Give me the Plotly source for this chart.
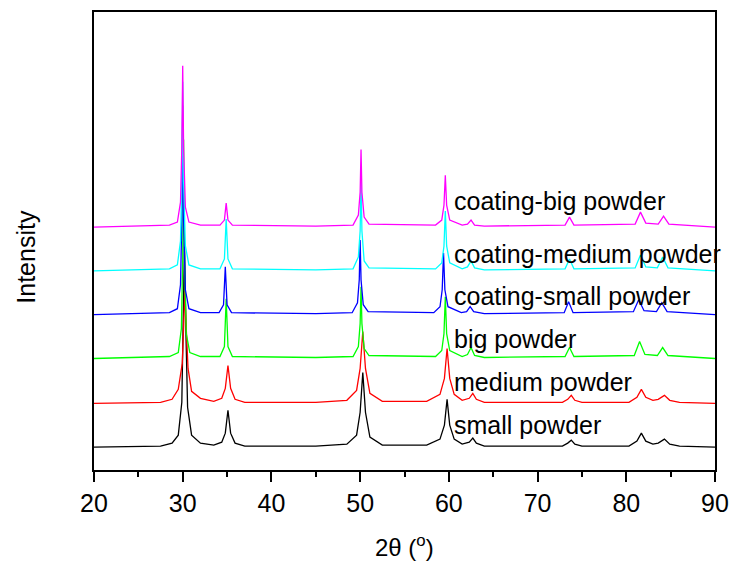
import plotly.graph_objects as go

# ---- data (2theta in degrees, intensity in arbitrary units) ----
names = ["small powder", "medium powder", "big powder",
         "coating-small powder", "coating-medium powder", "coating-big powder"]
colors = ["#000000", "#ff0000", "#00ff00", "#0000ff", "#00ffff", "#ff00ff"]
offsets = [23, 67, 112, 156, 200, 244]

x_small = [20, 27.5, 28.8, 29.5, 29.9, 30.05, 30.2, 30.35, 30.55, 31.0,
           32.0, 33.5, 34.4, 34.8, 35.1, 35.4, 35.9, 37.0,
           45, 48.5, 49.6, 50.0, 50.3, 50.6, 51.1, 52.5,
           57.5, 59.0, 59.5, 59.8, 60.1, 60.6, 61.5,
           62.3, 62.7, 63.1, 64.0,
           72.8, 73.4, 73.8, 74.2, 75.0,
           80.3, 81.2, 81.7, 82.2, 83.0,
           83.6, 84.3, 84.9, 86.0, 90]
i_small = [0, 1, 4, 12, 45, 120, 205, 120, 40, 12,
           4, 2, 5, 14, 37, 14, 4, 1,
           1, 3, 12, 35, 75, 35, 10, 2,
           2, 8, 22, 48, 22, 8, 3,
           5, 9, 4, 1,
           1, 4, 7, 3, 1,
           1, 6, 14, 6, 3,
           4, 8, 3, 1, 0]

x_medium = [20, 27.5, 28.8, 29.5, 29.95, 30.1, 30.25, 30.4, 30.6, 31.0,
            32.0, 33.5, 34.4, 34.8, 35.1, 35.4, 35.9, 37.0,
            45, 48.5, 49.6, 50.0, 50.3, 50.6, 51.1, 52.5,
            57.5, 59.0, 59.5, 59.8, 60.1, 60.6, 61.5,
            62.3, 62.7, 63.1, 64.0,
            72.8, 73.4, 73.8, 74.2, 75.0,
            80.3, 81.2, 81.7, 82.2, 83.0,
            83.6, 84.3, 84.9, 86.0, 90]
i_medium = [0, 1, 4, 14, 40, 75, 112, 75, 35, 12,
            5, 2, 5, 15, 38, 15, 4, 1,
            1, 3, 13, 35, 72, 35, 10, 2,
            2, 9, 25, 55, 25, 9, 3,
            5, 10, 4, 1,
            1, 4, 8, 3, 1,
            1, 6, 14, 6, 3,
            4, 8, 3, 1, 0]

x_big = [20, 28.5, 29.5, 29.85, 30.0, 30.1, 30.2, 30.4, 30.8, 32,
         34.2, 34.7, 34.9, 35.1, 35.6,
         45, 49.2, 49.8, 50.0, 50.1, 50.2, 50.45, 51,
         58.5, 59.2, 59.45, 59.6, 59.75, 60.1,
         61.5, 62.1, 62.5, 62.9, 64,
         73.1, 73.6, 74.1,
         80.9, 81.5, 82.1,
         83.5, 84.1, 84.7, 90]
i_big = [0, 2, 6, 30, 100, 220, 100, 25, 6, 2,
         2, 12, 60, 12, 2,
         1, 2, 12, 35, 72, 35, 10, 3,
         2, 8, 25, 62, 25, 8,
         2, 4, 11, 3, 1,
         2, 11, 2,
         3, 17, 4,
         3, 11, 3, 0]

x_csmall = [20, 28.5, 29.4, 29.75, 29.9, 30.0, 30.1, 30.3, 30.7, 32,
            34.1, 34.6, 34.8, 35.0, 35.5,
            45, 49.1, 49.7, 49.9, 50.0, 50.1, 50.35, 50.9,
            58.3, 59.0, 59.25, 59.4, 59.55, 59.9,
            61.4, 62.0, 62.4, 62.8, 64,
            73.0, 73.5, 74.0,
            80.8, 81.4, 82.0,
            83.4, 84.0, 84.6, 90]
i_csmall = [0, 2, 6, 30, 95, 210, 95, 25, 6, 2,
            2, 10, 48, 10, 2,
            1, 2, 12, 35, 75, 35, 10, 3,
            2, 8, 25, 62, 25, 8,
            2, 3, 8, 3, 1,
            2, 13, 2,
            3, 15, 4,
            3, 12, 3, 0]

x_cmedium = [20, 28.5, 29.4, 29.75, 29.9, 30.0, 30.1, 30.3, 30.7, 32,
             34.2, 34.7, 34.9, 35.1, 35.6,
             45, 49.2, 49.8, 50.0, 50.1, 50.2, 50.45, 51,
             58.5, 59.2, 59.45, 59.6, 59.75, 60.1,
             61.5, 62.1, 62.5, 62.9, 64,
             73.1, 73.6, 74.1,
             81.0, 81.6, 82.2,
             83.5, 84.1, 84.7, 90]
i_cmedium = [0, 2, 6, 30, 90, 190, 90, 25, 6, 2,
             2, 12, 52, 12, 2,
             1, 2, 14, 40, 90, 40, 10, 3,
             2, 8, 25, 60, 25, 8,
             2, 4, 10, 3, 1,
             2, 12, 2,
             3, 16, 4,
             3, 14, 3, 0]

x_cbig = [20, 28.5, 29.4, 29.75, 29.9, 30.0, 30.1, 30.3, 30.7, 32,
          34.2, 34.7, 34.9, 35.1, 35.6,
          45, 49.2, 49.8, 50.0, 50.1, 50.2, 50.45, 51,
          58.5, 59.2, 59.45, 59.6, 59.75, 60.1,
          61.5, 62.1, 62.5, 62.9, 64,
          73.1, 73.6, 74.1,
          81.0, 81.6, 82.2,
          83.6, 84.2, 84.8, 90]
i_cbig = [0, 2, 5, 25, 80, 162, 80, 20, 5, 2,
          2, 7, 24, 7, 2,
          1, 2, 12, 35, 78, 35, 10, 3,
          2, 7, 22, 52, 22, 7,
          2, 3, 7, 2, 1,
          2, 10, 2,
          3, 15, 4,
          3, 11, 3, 0]

xs = [x_small, x_medium, x_big, x_csmall, x_cmedium, x_cbig]
ints = [i_small, i_medium, i_big, i_csmall, i_cmedium, i_cbig]

label_x = 60.3
label_y = [45, 88, 132, 175, 217, 270]

FONT = "Arial, 'Liberation Sans', sans-serif"

fig = go.Figure()
for name, col, off, x, iv in zip(names, colors, offsets, xs, ints):
    fig.add_trace(go.Scatter(
        x=x, y=[v + off for v in iv], mode="lines", name=name,
        line=dict(color=col, width=1.3), showlegend=False))

for name, ly in zip(names, label_y):
    fig.add_annotation(x=label_x, y=ly, xref="x", yref="y", text=name,
                       showarrow=False, xanchor="left", yanchor="middle",
                       font=dict(family=FONT, size=25, color="black"))

fig.add_annotation(x=-0.11, y=0.465, xref="paper", yref="paper", text="Intensity",
                   textangle=-90, showarrow=False, xanchor="center", yanchor="middle",
                   font=dict(family=FONT, size=25, color="black"))
fig.add_annotation(x=0.5, y=-0.165, xref="paper", yref="paper",
                   text="2θ (<sup>o</sup>)", showarrow=False,
                   xanchor="center", yanchor="middle",
                   font=dict(family=FONT, size=24, color="black"))

fig.update_layout(
    autosize=True,
    margin=dict(l=94, r=18, t=10, b=94),
    paper_bgcolor="white", plot_bgcolor="white",
    font=dict(family=FONT, size=24, color="black"),
)
fig.update_xaxes(range=[20, 90], dtick=10, tick0=20, ticks="outside", ticklen=10,
                 tickwidth=1.5, tickcolor="black", showline=True, linecolor="black",
                 linewidth=1.5, mirror=True, showgrid=False, zeroline=False,
                 tickfont=dict(family=FONT, size=25, color="black"),
                 minor=dict(dtick=5, ticks="outside", ticklen=5, tickwidth=1.5,
                            tickcolor="black", showgrid=False))
fig.update_yaxes(range=[0, 460], showticklabels=False, ticks="", showline=True,
                 linecolor="black", linewidth=1.5, mirror=True, showgrid=False,
                 zeroline=False)

fig.write_html("out.html")
